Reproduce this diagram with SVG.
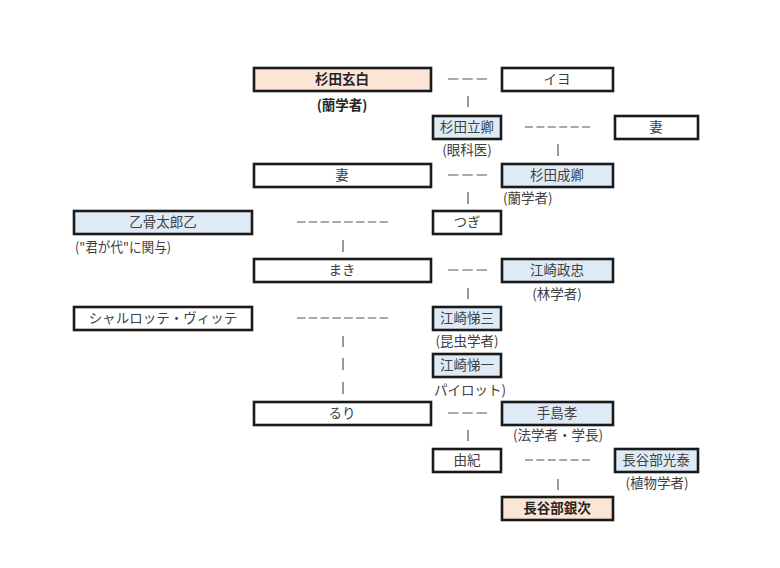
<svg xmlns="http://www.w3.org/2000/svg" width="780" height="568" viewBox="0 0 780 568">
<style>
.bx{stroke:#1a1a1a;stroke-width:2.6;fill:#ffffff}
.pk{fill:#fbe5d6}
.bl{fill:#deebf7}
text{font-family:"Noto Sans CJK JP","Noto Sans",sans-serif;font-size:13.5px;fill:#404040;text-anchor:middle}
.b{font-weight:bold;fill:#262626}
.st{text-anchor:start}
.c line{stroke:#555555;stroke-width:1.2}
.d3{stroke-dasharray:10.5 3.75}
.d6{stroke-dasharray:8 3.4}
.d8{stroke-dasharray:8.5 3.3}
</style>
<rect width="780" height="568" fill="#ffffff"/>
<g id="connectors" class="c">
<line class="d3" x1="448" y1="79" x2="487" y2="79"/>
<line class="d3" x1="448" y1="175" x2="487" y2="175"/>
<line class="d3" x1="448" y1="270" x2="487" y2="270"/>
<line class="d3" x1="448" y1="413" x2="487" y2="413"/>
<line class="d6" x1="525" y1="127" x2="591" y2="127"/>
<line class="d6" x1="525" y1="460" x2="591" y2="460"/>
<line class="d8" x1="297" y1="222" x2="389" y2="222"/>
<line class="d8" x1="297" y1="318" x2="389" y2="318"/>
<line x1="468" y1="96" x2="468" y2="107"/>
<line x1="468" y1="192" x2="468" y2="204"/>
<line x1="468" y1="288" x2="468" y2="299"/>
<line x1="468" y1="430" x2="468" y2="441"/>
<line x1="558" y1="144" x2="558" y2="156"/>
<line x1="558" y1="479" x2="558" y2="490"/>
<line x1="343" y1="240" x2="343" y2="252"/>
<line x1="343" y1="336" x2="343" y2="347"/>
<line x1="343" y1="358" x2="343" y2="370"/>
<line x1="343" y1="382" x2="343" y2="394"/>
</g>
<g id="sugita-genpaku"><rect class="bx pk" x="254" y="68" width="177" height="23"/><text class="b" x="342" y="84">杉田玄白</text><text class="b" x="342" y="110">(蘭学者)</text></g>
<g id="iyo"><rect class="bx" x="502" y="68" width="111" height="23"/><text x="557" y="84">イヨ</text></g>
<g id="sugita-ryukei"><rect class="bx bl" x="433" y="116" width="68" height="23"/><text x="467" y="132">杉田立卿</text><text x="467" y="155">(眼科医)</text></g>
<g id="tsuma1"><rect class="bx" x="615" y="116" width="83" height="23"/><text x="656" y="132">妻</text></g>
<g id="tsuma2"><rect class="bx" x="254" y="164" width="177" height="23"/><text x="342" y="180">妻</text></g>
<g id="sugita-seikei"><rect class="bx bl" x="502" y="164" width="111" height="23"/><text x="557" y="180">杉田成卿</text><text class="st" x="503" y="203">(蘭学者)</text></g>
<g id="otsukotsu"><rect class="bx bl" x="74" y="211" width="178" height="23"/><text x="163" y="227">乙骨太郎乙</text><text class="st" x="75" y="252" textLength="96" lengthAdjust="spacingAndGlyphs">("君が代"に関与)</text></g>
<g id="tsugi"><rect class="bx" x="433" y="211" width="68" height="23"/><text x="467" y="227">つぎ</text></g>
<g id="maki"><rect class="bx" x="254" y="259" width="177" height="23"/><text x="342" y="275">まき</text></g>
<g id="ezaki-masatada"><rect class="bx bl" x="502" y="259" width="111" height="23"/><text x="557" y="275">江崎政忠</text><text x="557" y="299">(林学者)</text></g>
<g id="charlotte"><rect class="bx" x="74" y="307" width="178" height="23"/><text x="163" y="323">シャルロッテ・ヴィッテ</text></g>
<g id="ezaki-teizo"><rect class="bx bl" x="433" y="307" width="68" height="23"/><text x="467" y="323">江崎悌三</text><text x="467" y="346">(昆虫学者)</text></g>
<g id="ezaki-teiichi"><rect class="bx bl" x="433" y="354" width="68" height="23"/><text x="467" y="370">江崎悌一</text><text x="470" y="395">パイロット)</text></g>
<g id="ruri"><rect class="bx" x="254" y="402" width="177" height="23"/><text x="342" y="418">るり</text></g>
<g id="teshima"><rect class="bx bl" x="502" y="402" width="111" height="23"/><text x="557" y="418">手島孝</text><text x="558" y="440">(法学者・学長)</text></g>
<g id="yuki"><rect class="bx" x="433" y="449" width="68" height="23"/><text x="467" y="465">由紀</text></g>
<g id="hasebe-mitsuhiro"><rect class="bx bl" x="615" y="449" width="83" height="23"/><text x="656" y="465">長谷部光泰</text><text x="657" y="488">(植物学者)</text></g>
<g id="hasebe-ginji"><rect class="bx pk" x="502" y="497" width="111" height="23"/><text class="b" x="557" y="513">長谷部銀次</text></g>
</svg>
